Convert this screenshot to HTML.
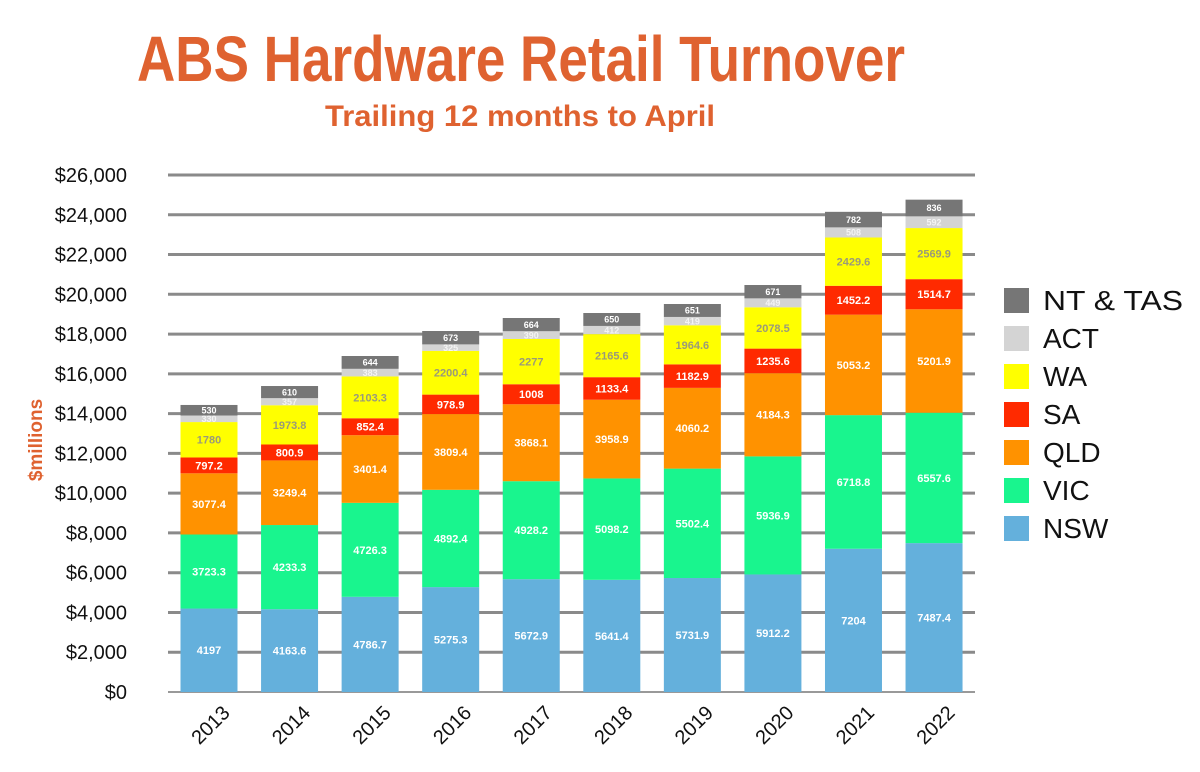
<!DOCTYPE html>
<html><head><meta charset="utf-8"><style>
html,body{margin:0;padding:0;background:#fff;}
svg{display:block;font-family:"Liberation Sans",Arial,sans-serif;}
</style></head><body>
<svg id="c" width="1200" height="772" viewBox="0 0 1200 772" xmlns="http://www.w3.org/2000/svg">
<text x="521" y="81" text-anchor="middle" font-size="64" font-weight="bold" fill="#df6230" textLength="768" lengthAdjust="spacingAndGlyphs">ABS Hardware Retail Turnover</text>
<text x="520" y="126" text-anchor="middle" font-size="30" font-weight="bold" fill="#df6230" textLength="390" lengthAdjust="spacingAndGlyphs">Trailing 12 months to April</text>
<text transform="translate(42,440) rotate(-90)" text-anchor="middle" font-size="19" font-weight="bold" fill="#df6230">$millions</text>
<g id="grid"></g>
<g id="bars"></g>
<g font-size="28" fill="#111">
<rect x="1004" y="288" width="25" height="25" fill="#767676"/><text x="1043" y="310" textLength="140" lengthAdjust="spacingAndGlyphs">NT &amp; TAS</text>
<rect x="1004" y="326" width="25" height="25" fill="#d4d4d4"/><text x="1043" y="348">ACT</text>
<rect x="1004" y="364" width="25" height="25" fill="#ffff00"/><text x="1043" y="386">WA</text>
<rect x="1004" y="402" width="25" height="25" fill="#ff2a00"/><text x="1043" y="424">SA</text>
<rect x="1004" y="440" width="25" height="25" fill="#ff9200"/><text x="1043" y="462">QLD</text>
<rect x="1004" y="478" width="25" height="25" fill="#19f58e"/><text x="1043" y="500">VIC</text>
<rect x="1004" y="516" width="25" height="25" fill="#64b0dc"/><text x="1043" y="538">NSW</text>
</g>
</svg>
<script>
var NS="http://www.w3.org/2000/svg";
function el(p,t,a,txt){var e=document.createElementNS(NS,t);for(var k in a)e.setAttribute(k,a[k]);if(txt!==undefined)e.textContent=txt;p.appendChild(e);return e;}
var y0=692,sc=517/26000;
var grid=document.getElementById('grid'),bars=document.getElementById('bars');
for(var v=0;v<=26000;v+=2000){var y=y0-v*sc;
 el(grid,'line',{x1:168,x2:975,y1:y,y2:y,stroke:v==0?'#999':'#8a8a8a','stroke-width':v==0?2:3});
 el(grid,'text',{x:127,y:y+7,'text-anchor':'end','font-size':20,fill:'#111'},'$'+v.toLocaleString('en-US'));}
var cols=['#64b0dc','#19f58e','#ff9200','#ff2a00','#ffff00','#d4d4d4','#767676'];
var data=[
[2013,4197,3723.3,3077.4,797.2,1780,330,530],
[2014,4163.6,4233.3,3249.4,800.9,1973.8,357,610],
[2015,4786.7,4726.3,3401.4,852.4,2103.3,383,644],
[2016,5275.3,4892.4,3809.4,978.9,2200.4,325,673],
[2017,5672.9,4928.2,3868.1,1008,2277,390,664],
[2018,5641.4,5098.2,3958.9,1133.4,2165.6,412,650],
[2019,5731.9,5502.4,4060.2,1182.9,1964.6,419,651],
[2020,5912.2,5936.9,4184.3,1235.6,2078.5,449,671],
[2021,7204,6718.8,5053.2,1452.2,2429.6,508,782],
[2022,7487.4,6557.6,5201.9,1514.7,2569.9,592,836]];
data.forEach(function(d,i){var cx=209+i*80.56,cum=0;
 for(var s=0;s<7;s++){var v=d[s+1],yt=y0-(cum+v)*sc,h=v*sc;
  el(bars,'rect',{x:cx-28.5,y:yt,width:57,height:h,fill:cols[s]});
  var fs=s>=5?9:11,fill=s==4?'#9a9a7a':(s==5?'#f4f4f4':'#fff');
  el(bars,'text',{x:cx,y:yt+h/2+fs*0.36,'text-anchor':'middle','font-size':fs,'font-weight':'bold',fill:fill},String(v));
  cum+=v;}
 el(bars,'text',{transform:'translate('+(cx+22)+',714) rotate(-45)','text-anchor':'end','font-size':20,fill:'#111'},String(d[0]));
});
</script>
</body></html>
